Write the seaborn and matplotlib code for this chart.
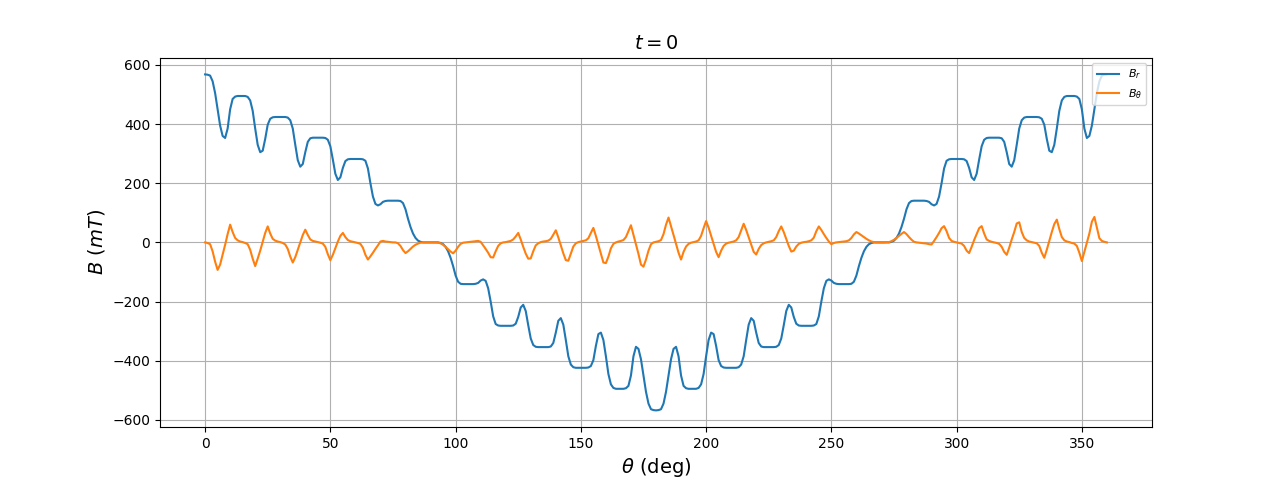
import numpy as np
import pandas as pd
import matplotlib
matplotlib.use("Agg")
import matplotlib.pyplot as plt
import seaborn as sns

# angle grid (deg)
theta = list(range(0, 361))

# radial component B_r (mT), one value per degree
b_r = [
    568, 567, 564, 545, 505, 450, 395, 360, 353, 385,
    450, 485, 493, 495, 495, 495, 495, 492, 480, 445,
    385, 330, 305, 310, 350, 398, 418, 423, 424, 424,
    424, 424, 424, 422, 413, 385, 330, 278, 256, 265,
    305, 340, 352, 354, 354, 354, 354, 354, 353, 347,
    325, 280, 232, 211, 220, 252, 275, 281, 282, 282,
    282, 282, 282, 281, 276, 250, 200, 155, 130, 125,
    129, 137, 140, 141, 141, 141, 141, 141, 140, 133,
    112, 80, 52, 30, 15, 6, 2, 0, 0, 0,
    0, 0, 0, 0, -2, -6, -15, -30, -52, -80,
    -112, -133, -140, -141, -141, -141, -141, -141, -140, -137,
    -129, -125, -130, -155, -200, -250, -276, -281, -282, -282,
    -282, -282, -282, -281, -275, -252, -220, -211, -232, -280,
    -325, -347, -353, -354, -354, -354, -354, -354, -352, -340,
    -305, -265, -256, -278, -330, -385, -413, -422, -424, -424,
    -424, -424, -424, -423, -418, -398, -350, -310, -305, -330,
    -385, -445, -480, -492, -495, -495, -495, -495, -493, -485,
    -450, -385, -353, -360, -395, -450, -505, -545, -564, -567,
    -568, -567, -564, -545, -505, -450, -395, -360, -353, -385,
    -450, -485, -493, -495, -495, -495, -495, -492, -480, -445,
    -385, -330, -305, -310, -350, -398, -418, -423, -424, -424,
    -424, -424, -424, -422, -413, -385, -330, -278, -256, -265,
    -305, -340, -352, -354, -354, -354, -354, -354, -353, -347,
    -325, -280, -232, -211, -220, -252, -275, -281, -282, -282,
    -282, -282, -282, -281, -276, -250, -200, -155, -130, -125,
    -129, -137, -140, -141, -141, -141, -141, -141, -140, -133,
    -112, -80, -52, -30, -15, -6, -2, 0, 0, 0,
    0, 0, 0, 0, 2, 6, 15, 30, 52, 80,
    112, 133, 140, 141, 141, 141, 141, 141, 140, 137,
    129, 125, 130, 155, 200, 250, 276, 281, 282, 282,
    282, 282, 282, 281, 275, 252, 220, 211, 232, 280,
    325, 347, 353, 354, 354, 354, 354, 354, 352, 340,
    305, 265, 256, 278, 330, 385, 413, 422, 424, 424,
    424, 424, 424, 423, 418, 398, 350, 310, 305, 330,
    385, 445, 480, 492, 495, 495, 495, 495, 493, 485,
    450, 385, 353, 360, 395, 450, 505, 545, 564, 567,
    568,
]

# tangential component B_theta (mT), one value per degree
b_theta = [
    0, -2, -6, -30, -65, -93, -75, -42, -8, 28,
    60, 35, 15, 7, 3, 1, -2, -6, -25, -55,
    -80, -55, -28, 2, 32, 54, 30, 12, 6, 3,
    1, -2, -7, -22, -48, -68, -50, -25, 0, 25,
    43, 25, 10, 5, 3, 1, -1, -4, -15, -40,
    -60, -42, -20, 3, 22, 32, 18, 8, 4, 2,
    0, -2, -5, -18, -42, -58, -47, -35, -22, -10,
    3, 5, 3, 2, 1, 0, 0, -3, -12, -26,
    -36, -30, -22, -14, -8, -4, -1, 0, 0, 0,
    0, 0, 0, -1, -3, -8, -15, -23, -31, -37,
    -28, -15, -5, -1, 0, 1, 2, 3, 4, 5,
    2, -10, -22, -35, -50, -51, -30, -12, -3, 0,
    1, 3, 5, 10, 20, 32, 10, -15, -38, -55,
    -54, -30, -10, -3, 1, 3, 4, 6, 12, 26,
    41, 17, -10, -37, -60, -62, -38, -14, -3, 1,
    3, 5, 7, 14, 32, 49, 22, -8, -38, -68,
    -70, -48, -20, -5, 0, 3, 5, 8, 18, 38,
    58, 26, -6, -39, -75, -82, -58, -28, -6, 0,
    2, 4, 8, 28, 60, 84, 55, 25, -5, -35,
    -58, -32, -14, -5, -1, 1, 3, 7, 22, 48,
    72, 50, 22, -5, -32, -50, -28, -12, -4, -1,
    1, 3, 7, 18, 40, 63, 42, 17, -8, -32,
    -41, -22, -9, -3, 0, 2, 4, 7, 18, 38,
    54, 35, 12, -12, -31, -28, -14, -5, -1, 1,
    2, 4, 7, 16, 38, 54, 42, 28, 15, 3,
    -6, -2, 0, 1, 2, 3, 4, 7, 15, 27,
    35, 30, 24, 18, 12, 7, 3, 1, 0, 0,
    0, 0, 1, 1, 4, 9, 15, 22, 29, 35,
    28, 18, 9, 2, 0, -1, -2, -3, -4, -6,
    -7, 5, 18, 32, 48, 55, 38, 15, 5, 2,
    0, -2, -4, -12, -28, -36, -15, 8, 28, 48,
    55, 30, 10, 5, 2, 0, -2, -5, -15, -32,
    -42, -18, 10, 35, 64, 68, 35, 15, 7, 3,
    1, -1, -3, -12, -35, -52, -25, 5, 35, 62,
    77, 45, 18, 7, 3, 1, -2, -4, -12, -35,
    -63, -32, -2, 30, 70, 86, 50, 14, 5, 2,
    0,
]

df = pd.DataFrame({"theta": theta, "Br": b_r, "Bt": b_theta})

fig, ax = plt.subplots(figsize=(12.8, 4.8), dpi=100)
sns.lineplot(data=df, x="theta", y="Br", ax=ax, color="C0", label=r"$B_r$", linewidth=1.5)
sns.lineplot(data=df, x="theta", y="Bt", ax=ax, color="C1", label=r"$B_\theta$", linewidth=1.5)

ax.set_title(r"$t=0$", fontsize=14)
ax.set_xlabel(r"$\theta$ (deg)", fontsize=14)
ax.set_ylabel(r"$B$ $(mT)$", fontsize=14)
ax.grid(True)
ax.legend(loc="upper right", fontsize=8)

fig.savefig("out.png", dpi=100)
